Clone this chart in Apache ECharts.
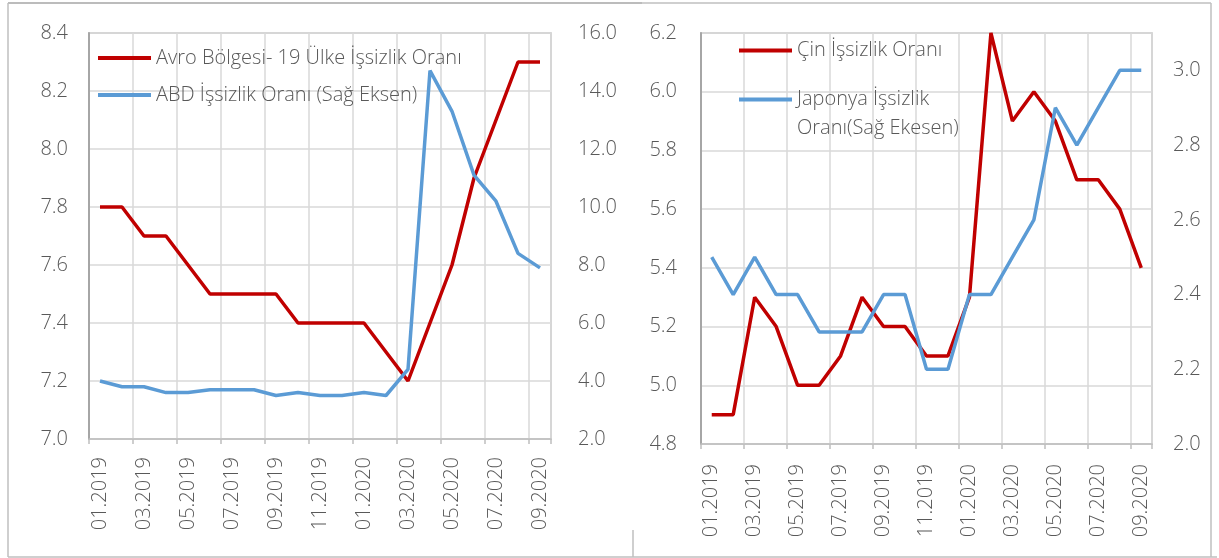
<!DOCTYPE html>
<html>
<head>
<meta charset="utf-8">
<script src="https://cdn.jsdelivr.net/npm/echarts@6/dist/echarts.min.js"></script>
<style>
  html, body { margin: 0; padding: 0; background: #fff; }
  #main { width: 1219px; height: 558px; }
</style>
</head>
<body>
<div id="main"></div>
<script>
// aylar
const months = ['01.2019', '02.2019', '03.2019', '04.2019', '05.2019', '06.2019', '07.2019',
    '08.2019', '09.2019', '10.2019', '11.2019', '12.2019', '01.2020', '02.2020', '03.2020',
    '04.2020', '05.2020', '06.2020', '07.2020', '08.2020', '09.2020'];

// sol grafik
const euroRate = [7.8, 7.8, 7.7, 7.7, 7.6, 7.5, 7.5, 7.5, 7.5, 7.4, 7.4, 7.4, 7.4, 7.3, 7.2,
    7.4, 7.6, 7.9, 8.1, 8.3, 8.3];
const usRate = [4.0, 3.8, 3.8, 3.6, 3.6, 3.7, 3.7, 3.7, 3.5, 3.6, 3.5, 3.5, 3.6, 3.5, 4.4,
    14.7, 13.3, 11.1, 10.2, 8.4, 7.9];

// sag grafik
const chinaRate = [4.9, 4.9, 5.3, 5.2, 5.0, 5.0, 5.1, 5.3, 5.2, 5.2, 5.1, 5.1, 5.3, 6.2, 5.9,
    6.0, 5.9, 5.7, 5.7, 5.6, 5.4];
const japanRate = [2.5, 2.4, 2.5, 2.4, 2.4, 2.3, 2.3, 2.3, 2.4, 2.4, 2.2, 2.2, 2.4, 2.4, 2.5,
    2.6, 2.9, 2.8, 2.9, 3.0, 3.0];

const names = {
    euro: 'Avro Bölgesi- 19 Ülke İşsizlik Oranı',
    us: 'ABD İşsizlik Oranı (Sağ Eksen)',
    china: 'Çin İşsizlik Oranı',
    japan: 'Japonya İşsizlik Oranı(Sağ Ekesen)'
};

const RED = '#C00000', BLUE = '#5B9BD5', TXT = '#595959';
const FONT = '"Open Sans", "Noto Sans", sans-serif';
const FS = 20;

const myChart = echarts.init(document.getElementById('main'));

const xAxisOf = (gridIndex, margin) => ({
    type: 'category',
    gridIndex: gridIndex,
    data: months,
    boundaryGap: true,
    axisLine: {lineStyle: {color: '#bfbfbf', width: 1.5}},
    axisTick: {show: true, interval: 1, length: 5, lineStyle: {color: '#bfbfbf', width: 1.5}},
    axisLabel: {interval: 1, rotate: 90, margin: margin, fontSize: FS, fontWeight: 300,
        fontFamily: FONT, color: TXT},
    splitLine: {show: true, interval: 1, lineStyle: {color: '#d9d9d9', width: 1.5}}
});

const yAxisOf = (gridIndex, min, max, interval, margin, left, showSplit) => ({
    type: 'value',
    gridIndex: gridIndex,
    position: left ? 'left' : 'right',
    min: min,
    max: max,
    interval: interval,
    axisLine: {show: left, lineStyle: {color: '#a6a6a6', width: 2}},
    axisTick: {show: false},
    axisLabel: {margin: margin, fontSize: FS, fontWeight: 300, fontFamily: FONT, color: TXT,
        showMaxLabel: max !== 3.1,
        formatter: v => v.toFixed(1)},
    splitLine: {show: showSplit, lineStyle: {color: '#d9d9d9', width: 1.5}}
});

const lineSeries = (name, data, color, xi, yi) => ({
    name: name,
    type: 'line',
    xAxisIndex: xi,
    yAxisIndex: yi,
    data: data,
    symbol: 'none',
    lineStyle: {color: color, width: 3.5},
    itemStyle: {color: color},
    emphasis: {disabled: true}
});

const border = (x1, y1, x2, y2, c) => ({
    type: 'line',
    silent: true,
    shape: {x1: x1, y1: y1, x2: x2, y2: y2},
    style: {stroke: c || '#bfbfbf', lineWidth: 1.5}
});

let option = {
    animation: false,
    backgroundColor: '#fff',
    textStyle: {fontFamily: FONT},
    grid: [
        {left: 89, top: 33, width: 462, height: 406, show: true, borderColor: '#bfbfbf', borderWidth: 1.5},
        {left: 701, top: 33, width: 451, height: 411, show: true, borderColor: '#bfbfbf', borderWidth: 1.5}
    ],
    legend: [
        {
            left: 93, top: 41, orient: 'vertical',
            icon: 'rect', itemWidth: 53, itemHeight: 4, itemGap: 13,
            textStyle: {fontSize: FS, fontWeight: 300, color: TXT, fontFamily: FONT, lineHeight: 24},
            data: [names.euro, names.us]
        },
        {
            left: 734, top: 31, orient: 'vertical',
            icon: 'rect', itemWidth: 53, itemHeight: 4, itemGap: -9,
            textStyle: {fontSize: FS, fontWeight: 300, color: TXT, fontFamily: FONT, lineHeight: 29},
            // ikinci ad iki satir, ilk satir cizgiyle ayni hizada
            formatter: name => name === names.japan ? ' \nJaponya İşsizlik\nOranı(Sağ Ekesen)' : name,
            data: [names.china, names.japan]
        }
    ],
    xAxis: [xAxisOf(0, 18), xAxisOf(1, 20)],
    yAxis: [
        yAxisOf(0, 7.0, 8.4, 0.2, 21, true, true),
        yAxisOf(0, 2, 16, 2, 27, false, false),
        yAxisOf(1, 4.8, 6.2, 0.2, 24, true, true),
        yAxisOf(1, 2.0, 3.1, 0.2, 21, false, false)
    ],
    series: [
        lineSeries(names.euro, euroRate, RED, 0, 0),
        lineSeries(names.us, usRate, BLUE, 0, 1),
        lineSeries(names.china, chinaRate, RED, 1, 2),
        lineSeries(names.japan, japanRate, BLUE, 1, 3)
    ],
    graphic: [
        border(8, 3, 642, 3, '#a6a6a6'),
        border(642, 3, 1211, 3),
        border(8, 3, 8, 557),
        border(8, 557, 1217, 557),
        border(1211, 3, 1211, 557),
        border(633, 530, 633, 557)
    ]
};

if (option && typeof option === "object") {
    myChart.setOption(option, true);
}
</script>
</body>
</html>
